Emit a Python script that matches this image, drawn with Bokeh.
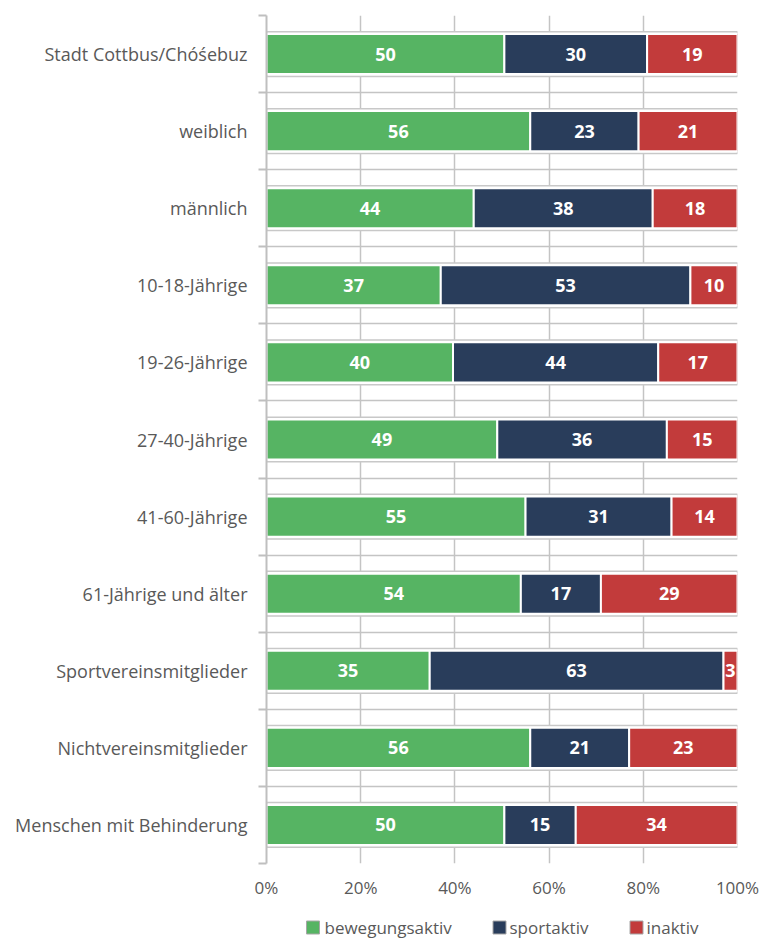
import numpy as np
from bokeh.plotting import figure
from bokeh.layouts import column
from bokeh.models import ColumnDataSource, Range1d, FixedTicker, PrintfTickFormatter
from bokeh.core.properties import value
from bokeh.embed import file_html
from bokeh.resources import INLINE

categories = ["Stadt Cottbus/Chóśebuz", "weiblich", "männlich", "10-18-Jährige",
              "19-26-Jährige", "27-40-Jährige", "41-60-Jährige", "61-Jährige und älter",
              "Sportvereinsmitglieder", "Nichtvereinsmitglieder", "Menschen mit Behinderung"]
bewegungsaktiv = [50, 56, 44, 37, 40, 49, 55, 54, 35, 56, 50]
sportaktiv = [30, 23, 38, 53, 44, 36, 31, 17, 63, 21, 15]
inaktiv = [19, 21, 18, 10, 17, 15, 14, 29, 3, 23, 34]
series_names = ["bewegungsaktiv", "sportaktiv", "inaktiv"]
colors = ["#56b463", "#293d5b", "#c23b3b"]
x_ticks = [0, 20, 40, 60, 80, 100]

FONT = "Open Sans"
TXT = "#595959"
GRID = "#c4c4c4"

n = len(categories)
ypos = [n - 1 - i for i in range(n)]  # top category highest
series = [bewegungsaktiv, sportaktiv, inaktiv]
totals = np.sum(np.array(series, dtype=float), axis=0)

p = figure(frame_width=471, frame_height=848, output_backend="svg", toolbar_location=None,
           x_range=Range1d(0, 100), y_range=Range1d(-0.5, n - 0.5),
           min_border_left=266, min_border_right=40, min_border_top=15, min_border_bottom=39)
p.outline_line_color = None

# grids
p.xgrid.ticker = FixedTicker(ticks=x_ticks)
p.xgrid.grid_line_color = GRID
p.xgrid.grid_line_width = 1.5
p.ygrid.ticker = FixedTicker(ticks=[k + 0.5 for k in range(n - 1)])
p.ygrid.grid_line_color = GRID
p.ygrid.grid_line_width = 1.5

# row boxes
p.hbar(y=ypos, left=0, right=100, height=0.58, fill_color="white",
       line_color="#c8c8c8", line_width=1.5)

# stacked (100%) bars, one renderer per series
cum = np.zeros(n)
for name, vals, col in zip(series_names, series, colors):
    share = np.array(vals, dtype=float) / totals * 100.0
    src = ColumnDataSource(dict(y=ypos, left=cum, right=cum + share,
                                mid=cum + share / 2.0, label=[str(v) for v in vals]))
    p.hbar(y="y", left="left", right="right", height=0.52, fill_color=col,
           line_color="white", line_width=2, source=src)
    p.text(x="mid", y="y", text="label", source=src, text_color="white",
           text_font=value(FONT), text_font_style="bold", text_font_size="18px",
           text_align="center", text_baseline="middle")
    cum = cum + share

# x axis
xa = p.xaxis[0]
xa.ticker = FixedTicker(ticks=x_ticks)
xa.formatter = PrintfTickFormatter(format="%d%%")
xa.axis_line_color = None
xa.major_tick_line_color = None
xa.minor_tick_line_color = None
xa.major_tick_out = 0
xa.major_tick_in = 0
xa.major_label_standoff = 12
xa.major_label_text_font = FONT
xa.major_label_text_font_size = "17px"
xa.major_label_text_color = TXT

# y axis
ya = p.yaxis[0]
ya.ticker = FixedTicker(ticks=ypos, minor_ticks=[k - 0.5 for k in range(n + 1)])
ya.major_label_overrides = {ypos[i]: categories[i] for i in range(n)}
ya.axis_line_color = "#bfbfbf"
ya.axis_line_width = 2
ya.major_tick_line_color = None
ya.major_tick_out = 0
ya.major_tick_in = 0
ya.minor_tick_line_color = "#bfbfbf"
ya.minor_tick_line_width = 2
ya.minor_tick_out = 8
ya.minor_tick_in = 0
ya.major_label_standoff = 11
ya.major_label_text_font = FONT
ya.major_label_text_font_size = "18px"
ya.major_label_text_color = TXT

# legend strip below the chart (x in page pixels)
legend_swatch_x = [312.5, 499, 636]
legend_text_x = [324, 509, 646]
p2 = figure(frame_width=471, frame_height=38, output_backend="svg", toolbar_location=None,
            x_range=Range1d(266, 737), y_range=Range1d(0, 38),
            min_border_left=266, min_border_right=40, min_border_top=0, min_border_bottom=0)
p2.axis.visible = False
p2.grid.visible = False
p2.outline_line_color = None
lsrc = ColumnDataSource(dict(sx=legend_swatch_x, tx=legend_text_x, y=[13] * 3,
                             name=series_names, color=colors))
p2.scatter(x="sx", y="y", source=lsrc, marker="square", size=13, fill_color="color",
           line_color="#a6a6a6", line_width=1)
p2.text(x="tx", y="y", text="name", source=lsrc, text_color=TXT, text_font=value(FONT),
        text_font_size="17px", text_align="left", text_baseline="middle")

open("out.html", "w").write(file_html(column(p, p2, spacing=0), INLINE))
